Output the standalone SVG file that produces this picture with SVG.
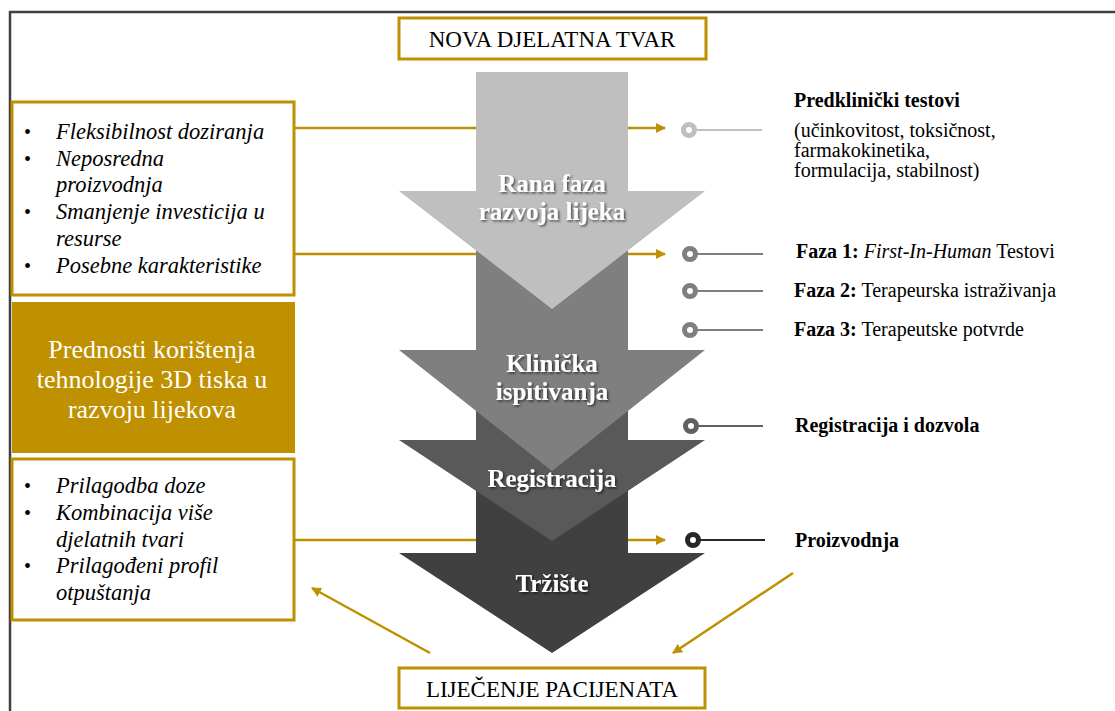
<svg xmlns="http://www.w3.org/2000/svg" width="1115" height="711" viewBox="0 0 1115 711">
<style>
  .gold-box { fill: #FFFFFF; stroke: #BF9000; stroke-width: 3; }
  .title { font-family: "Liberation Serif", serif; font-size: 23px; fill: #000000; text-anchor: middle; }
  .list { font-family: "Liberation Serif", serif; font-size: 22.5px; font-style: italic; fill: #000000; }
  .bullet { font-family: "Liberation Serif", serif; font-size: 20px; fill: #000000; }
  .adv { font-family: "Liberation Serif", serif; font-size: 26px; fill: #FFFFFF; text-anchor: middle; }
  .stage { font-family: "Liberation Serif", serif; font-size: 25px; font-weight: bold; fill: #FFFFFF; text-anchor: middle; }
  .lbl { font-family: "Liberation Serif", serif; font-size: 20px; fill: #000000; }
  .b { font-weight: bold; }
  .conn { stroke: #BF9000; stroke-width: 2.5; fill: none; }
</style>
<defs>
  <marker id="ah" viewBox="0 0 10 10" refX="9" refY="5" markerWidth="4" markerHeight="4" orient="auto" markerUnits="strokeWidth">
    <path d="M0,0 L10,5 L0,10 z" fill="#BF9000"/>
  </marker>
  <filter id="sh" x="-10%" y="-20%" width="120%" height="150%">
    <feDropShadow dx="1.5" dy="1.5" stdDeviation="1" flood-color="#000000" flood-opacity="0.6"/>
  </filter>
</defs>
<rect x="0" y="0" width="1115" height="711" fill="#FFFFFF"/>
<g id="frame">
  <path d="M10,711 L10,12 L1115,12" fill="none" stroke="#404040" stroke-width="2.5"/>
</g>
<g id="connectors">
  <line class="conn" x1="295" y1="128" x2="665" y2="128" marker-end="url(#ah)"/>
  <line class="conn" x1="295" y1="254" x2="665" y2="254" marker-end="url(#ah)"/>
  <line class="conn" x1="295" y1="540" x2="665" y2="540" marker-end="url(#ah)"/>
  <line class="conn" x1="430" y1="653" x2="312" y2="588" marker-end="url(#ah)"/>
  <line class="conn" x1="793" y1="573" x2="673" y2="653" marker-end="url(#ah)"/>
</g>
<g id="node-nova">
  <rect class="gold-box" x="399" y="18" width="307" height="41"/>
  <text class="title" x="552" y="47">NOVA DJELATNA TVAR</text>
</g>
<g id="node-trziste">
  <polygon points="476,480 628,480 628,553 705,553 552,653 399,553 476,553" fill="#404040"/>
  <text class="stage" x="552" y="592" filter="url(#sh)">Tržište</text>
</g>
<g id="node-registracija">
  <polygon points="476,380 628,380 628,440 705,440 552,541 399,440 476,440" fill="#595959"/>
  <text class="stage" x="552" y="487" filter="url(#sh)">Registracija</text>
</g>
<g id="node-klinicka">
  <polygon points="476,230 628,230 628,350 705,350 552,471 399,350 476,350" fill="#7F7F7F"/>
  <text class="stage" x="552" y="372" filter="url(#sh)">Klinička</text>
  <text class="stage" x="552" y="400" filter="url(#sh)">ispitivanja</text>
</g>
<g id="node-rana">
  <polygon points="476,72 628,72 628,191 705,191 552,309 399,191 476,191" fill="#BFBFBF"/>
  <text class="stage" x="552" y="192" filter="url(#sh)">Rana faza</text>
  <text class="stage" x="552" y="220" filter="url(#sh)">razvoja lijeka</text>
</g>
<g id="node-lijecenje">
  <rect class="gold-box" x="399" y="668" width="306" height="40"/>
  <text class="title" x="552" y="697">LIJEČENJE PACIJENATA</text>
</g>
<g id="node-prednosti-razvoj">
  <rect class="gold-box" x="12" y="102" width="282" height="193"/>
  <text class="bullet" x="24" y="139">•</text>
  <text class="list" x="56" y="139">Fleksibilnost doziranja</text>
  <text class="bullet" x="24" y="166">•</text>
  <text class="list" x="56" y="166">Neposredna</text>
  <text class="list" x="56" y="192">proizvodnja</text>
  <text class="bullet" x="24" y="219">•</text>
  <text class="list" x="56" y="219">Smanjenje investicija u</text>
  <text class="list" x="56" y="246">resurse</text>
  <text class="bullet" x="24" y="273">•</text>
  <text class="list" x="56" y="273">Posebne karakteristike</text>
</g>
<g id="node-prednosti">
  <rect x="12" y="302" width="283" height="151" fill="#BF9000"/>
  <text class="adv" x="152" y="358">Prednosti korištenja</text>
  <text class="adv" x="152" y="388">tehnologije 3D tiska u</text>
  <text class="adv" x="152" y="418">razvoju lijekova</text>
</g>
<g id="node-prednosti-pacijent">
  <rect class="gold-box" x="12" y="459" width="282" height="161"/>
  <text class="bullet" x="24" y="493">•</text>
  <text class="list" x="56" y="493">Prilagodba doze</text>
  <text class="bullet" x="24" y="520">•</text>
  <text class="list" x="56" y="520">Kombinacija više</text>
  <text class="list" x="56" y="547">djelatnih tvari</text>
  <text class="bullet" x="24" y="573">•</text>
  <text class="list" x="56" y="573">Prilagođeni profil</text>
  <text class="list" x="56" y="600">otpuštanja</text>
</g>
<g id="node-predklinicki">
  <line x1="696" y1="130" x2="762" y2="130" stroke="#BFBFBF" stroke-width="2"/>
  <circle cx="689" cy="130" r="5.5" fill="#FFFFFF" stroke="#BFBFBF" stroke-width="5"/>
  <text class="lbl b" x="794" y="107">Predklinički testovi</text>
  <text class="lbl" x="794" y="137">(učinkovitost, toksičnost,</text>
  <text class="lbl" x="794" y="157">farmakokinetika,</text>
  <text class="lbl" x="794" y="177">formulacija, stabilnost)</text>
</g>
<g id="node-faza1">
  <line x1="697" y1="254" x2="763" y2="254" stroke="#7F7F7F" stroke-width="2"/>
  <circle cx="690" cy="254" r="5.5" fill="#FFFFFF" stroke="#7F7F7F" stroke-width="5"/>
  <text class="lbl" x="796" y="258"><tspan class="b">Faza 1:</tspan> <tspan font-style="italic">First-In-Human</tspan> Testovi</text>
</g>
<g id="node-faza2">
  <line x1="697" y1="291" x2="763" y2="291" stroke="#7F7F7F" stroke-width="2"/>
  <circle cx="690" cy="291" r="5.5" fill="#FFFFFF" stroke="#7F7F7F" stroke-width="5"/>
  <text class="lbl" x="794" y="297"><tspan class="b">Faza 2:</tspan> Terapeurska istraživanja</text>
</g>
<g id="node-faza3">
  <line x1="697" y1="330" x2="763" y2="330" stroke="#7F7F7F" stroke-width="2"/>
  <circle cx="690" cy="330" r="5.5" fill="#FFFFFF" stroke="#7F7F7F" stroke-width="5"/>
  <text class="lbl" x="794" y="336"><tspan class="b">Faza 3:</tspan> Terapeutske potvrde</text>
</g>
<g id="node-registracija-dozvola">
  <line x1="698" y1="426" x2="763" y2="426" stroke="#606060" stroke-width="2"/>
  <circle cx="691" cy="426" r="5.5" fill="#FFFFFF" stroke="#606060" stroke-width="5"/>
  <text class="lbl b" x="795" y="432">Registracija i dozvola</text>
</g>
<g id="node-proizvodnja">
  <line x1="700" y1="540" x2="765" y2="540" stroke="#262626" stroke-width="2"/>
  <circle cx="693" cy="540" r="5.5" fill="#FFFFFF" stroke="#262626" stroke-width="5"/>
  <text class="lbl b" x="795" y="547">Proizvodnja</text>
</g>
</svg>
